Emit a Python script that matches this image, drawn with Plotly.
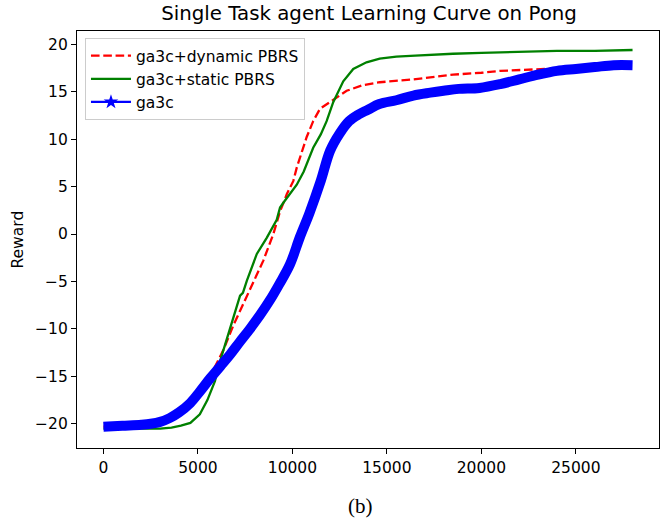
import plotly.graph_objects as go

# ---- data ----
dyn_x = [0, 1000, 2000, 3000, 3500, 4000, 4600, 5100, 5650, 5900, 6350, 6880, 7590, 8460,
         8990, 9345, 9610, 9700, 10050, 10230, 10750, 11100, 11460, 12160, 12870, 13740,
         14620, 16380, 17270, 18500, 20000, 21000, 23400, 24500, 26000, 28000]
dyn_y = [-20.3, -20.2, -20.1, -19.8, -19.4, -18.8, -17.8, -16.6, -15.0, -14.0, -12.2, -9.6,
         -6.6, -2.8, 0.0, 2.4, 3.7, 4.2, 5.6, 7.0, 10.2, 11.9, 13.2, 14.1, 15.1, 15.7, 16.0,
         16.3, 16.5, 16.8, 17.0, 17.2, 17.4, 17.5, 17.6, 17.7]

sta_x = [0, 1000, 2000, 3000, 3600, 4100, 4600, 5100, 5500, 5900, 6200, 6530, 6880, 7140,
         7230, 7380, 7590, 8115, 8640, 9170, 9345, 9520, 9870, 10230, 10600, 11100, 11500,
         11810, 12160, 12690, 13220, 13920, 14620, 15500, 16500, 17270, 18500, 20000,
         22000, 24000, 26000, 28000]
sta_y = [-20.5, -20.5, -20.5, -20.5, -20.4, -20.2, -19.9, -19.0, -17.5, -15.5, -13.2, -11.0,
         -8.6, -7.0, -6.5, -6.2, -4.9, -2.1, -0.4, 1.5, 2.8, 3.3, 4.2, 5.2, 6.6, 9.1, 10.5,
         11.9, 13.9, 16.1, 17.4, 18.1, 18.5, 18.7, 18.8, 18.9, 19.0, 19.1, 19.2, 19.3, 19.3,
         19.4]

base_x = [0, 1000, 2000, 2500, 3000, 3500, 4000, 4600, 5100, 5650, 6200, 6700, 7200, 7750,
          8300, 8800, 9300, 9870, 10400, 10900, 11500, 12000, 12500, 13000, 13500, 14000,
          14600, 15500, 16400, 17300, 18000, 18800, 19900, 21000, 22000, 23000, 24000,
          25000, 26000, 27000, 28000]
base_y = [-20.3, -20.2, -20.1, -20.0, -19.8, -19.4, -18.8, -17.8, -16.6, -15.2, -13.9, -12.7,
          -11.4, -10.0, -8.5, -7.0, -5.3, -3.2, -0.3, 2.2, 5.6, 8.8, 10.6, 11.9, 12.6, 13.1,
          13.7, 14.1, 14.6, 14.9, 15.1, 15.3, 15.4, 15.8, 16.3, 16.8, 17.2, 17.4, 17.6, 17.8,
          17.8]

x_ticks = [0, 5000, 10000, 15000, 20000, 25000]
x_tick_text = ["0", "5000", "10000", "15000", "20000", "25000"]
y_ticks = [-20, -15, -10, -5, 0, 5, 10, 15, 20]
y_tick_text = ["\u221220", "\u221215", "\u221210", "\u22125", "0", "5", "10", "15", "20"]

FONT = "DejaVu Sans"

fig = go.Figure()
fig.add_trace(go.Scatter(x=dyn_x, y=dyn_y, mode="lines", name="ga3c+dynamic PBRS",
                         line=dict(color="red", width=2.3, dash="8.6px,3.7px")))
fig.add_trace(go.Scatter(x=sta_x, y=sta_y, mode="lines", name="ga3c+static PBRS",
                         line=dict(color="green", width=2.3)))
fig.add_trace(go.Scatter(x=base_x, y=base_y, mode="lines", name="ga3c", showlegend=False,
                         line=dict(color="blue", width=10, shape="spline")))
fig.add_trace(go.Scatter(x=[None], y=[None], mode="lines+markers", name="ga3c",
                         line=dict(color="blue", width=2.3),
                         marker=dict(symbol="star", size=11, color="blue")))

axis_common = dict(showline=True, linecolor="black", linewidth=1.2, mirror=True,
                   ticks="outside", ticklen=5, tickwidth=1.2, tickcolor="black",
                   showgrid=False, zeroline=False,
                   tickfont=dict(family=FONT, size=15.5, color="black"))

fig.update_xaxes(range=[-1400, 29400], tickvals=x_ticks, ticktext=x_tick_text, **axis_common)
fig.update_yaxes(range=[-22.55, 21.4], tickvals=y_ticks, ticktext=y_tick_text, **axis_common)

fig.update_layout(
    width=667, height=520,
    margin=dict(l=77, r=8, t=31, b=72),
    paper_bgcolor="white", plot_bgcolor="white",
    title=dict(text="Single Task agent Learning Curve on Pong", x=(369 - 0) / 667,
               xanchor="center", y=1 - 13 / 520, yanchor="middle",
               font=dict(family=FONT, size=19.8, color="black")),
    legend=dict(x=0.0137, y=0.983, xanchor="left", yanchor="top",
                bgcolor="white", bordercolor="#cccccc", borderwidth=1,
                font=dict(family=FONT, size=15.5, color="black"),
                itemwidth=40, tracegroupgap=0),
    showlegend=True,
    annotations=[
        dict(text="Reward", xref="paper", yref="paper", x=(17 - 77) / 582, y=0.5,
             xanchor="center", yanchor="middle", textangle=-90, showarrow=False,
             font=dict(family=FONT, size=15.5, color="black")),
        dict(text="(b)", xref="paper", yref="paper", x=(360 - 77) / 582,
             y=(448 - 506) / 417, xanchor="center", yanchor="middle", showarrow=False,
             font=dict(family="Liberation Serif", size=21, color="black")),
    ],
)

fig.write_html("out.html", config={"displayModeBar": False},
               post_script="document.body.style.margin='0';")
